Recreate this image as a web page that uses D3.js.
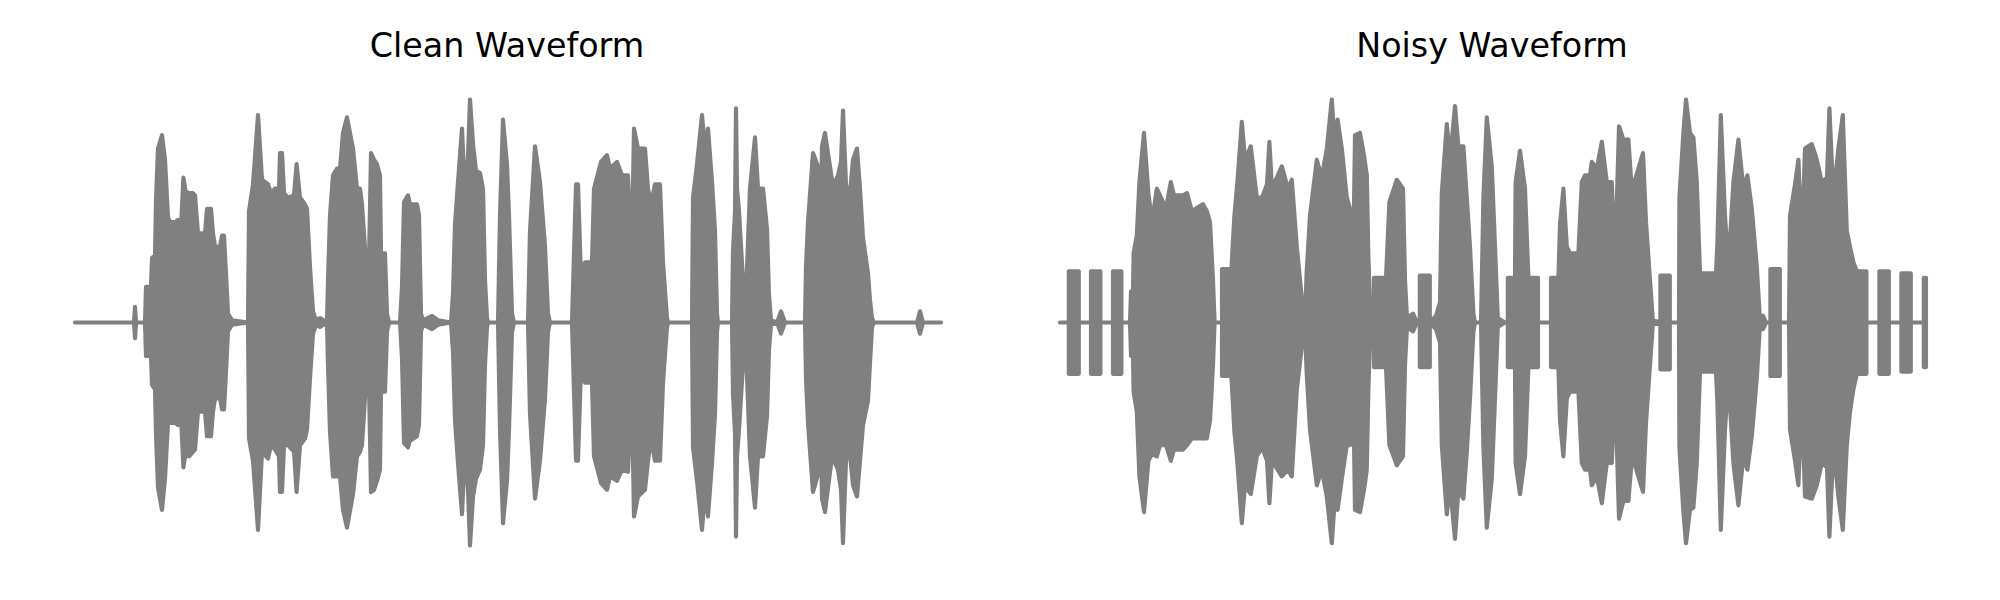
<!DOCTYPE html>
<html>
<head>
<meta charset="utf-8">
<script src="https://cdn.jsdelivr.net/npm/d3@7"></script>
<style>
  html, body { margin: 0; padding: 0; background: #ffffff; }
  svg { display: block; }
</style>
</head>
<body>
<svg id="chart" width="2000" height="600"></svg>
<script>
// Panel titles
const panelTitles = ["Clean Waveform", "Noisy Waveform"];

// Envelope of the clean waveform: [time (10 ms units), upper amplitude, lower amplitude]
const cleanEnvelope = [
  [0,0,0],[29,0,0],[29.5,0,0],[30,0.07,-0.07],[30.5,0,0],[35,0,0],
  [35.5,0.16,-0.15],[38,0.16,-0.15],[38.5,0.29,-0.28],[40,0.30,-0.30],[40.5,0.55,-0.50],
  [41.5,0.78,-0.74],[43.5,0.84,-0.84],[45,0.73,-0.70],[46.5,0.47,-0.45],[47.5,0.45,-0.45],
  [50,0.45,-0.45],[51.5,0.46,-0.46],[53,0.42,-0.42],[54.2,0.65,-0.65],[55.2,0.59,-0.59],
  [57,0.58,-0.60],[59,0.58,-0.58],[60,0.57,-0.57],[61.5,0.40,-0.40],[65,0.40,-0.40],
  [66,0.51,-0.51],[68,0.51,-0.51],[69,0.40,-0.40],[70,0.34,-0.34],[72.5,0.34,-0.34],
  [73.5,0.39,-0.39],[74.5,0.39,-0.39],[75.5,0.22,-0.22],[76.5,0.04,-0.04],[78.5,0.01,-0.01],[86.5,0,0],
  [87,0.50,-0.52],[89,0.62,-0.62],[91.5,0.93,-0.93],[93.5,0.64,-0.58],[96.5,0.62,-0.61],
  [98,0.58,-0.55],[100,0.60,-0.57],[102,0.60,-0.60],[102.5,0.76,-0.76],[103.5,0.76,-0.76],
  [104.5,0.58,-0.55],[106.5,0.56,-0.55],[109.5,0.57,-0.58],[110.8,0.71,-0.76],[112.5,0.56,-0.55],
  [115,0.53,-0.52],[116,0.51,-0.48],[117.5,0.25,-0.25],
  [119,0.05,-0.05],[120.5,0.01,-0.01],[122.5,0.02,-0.02],[126,0,0],
  [126.5,0.19,-0.19],[127.5,0.48,-0.49],[129,0.66,-0.69],[131,0.69,-0.69],[132.5,0.69,-0.69],
  [134,0.85,-0.84],[136,0.92,-0.92],[139,0.78,-0.77],[141,0.60,-0.60],[142.5,0.60,-0.58],
  [143.5,0.53,-0.55],[145.5,0.27,-0.27],[147,0.27,-0.27],[148,0.76,-0.76],[149.5,0.73,-0.75],
  [151,0.71,-0.71],[152.5,0.66,-0.66],[153,0.31,-0.31],[155,0.31,-0.31],[156,0.04,-0.04],
  [157,0,0],[162.5,0,0],
  [163.5,0.16,-0.16],[164.5,0.54,-0.54],[166.5,0.57,-0.56],[167.5,0.53,-0.53],[171,0.53,-0.51],
  [172,0.48,-0.46],[173,0.04,-0.04],[174,0.01,-0.01],[178.5,0.03,-0.03],[181.5,0.01,-0.01],[188,0,0],
  [189,0.13,-0.13],[190,0.44,-0.44],[191.5,0.63,-0.63],[193.5,0.87,-0.86],[194.5,0.66,-0.66],
  [195.5,0.60,-0.62],[196.5,0.75,-0.75],[197.5,1.00,-1.00],[199,0.80,-0.78],[200.5,0.68,-0.70],
  [202.5,0.67,-0.66],[204,0.60,-0.55],
  [205,0.19,-0.19],[206,0.02,-0.02],[206.5,0,0],[211.5,0,0],
  [212.5,0.48,-0.48],[214,0.91,-0.90],[216,0.71,-0.71],[217,0.48,-0.48],[218.5,0.04,-0.04],
  [219.5,0,0],[226.5,0,0],
  [227.5,0.41,-0.41],[230,0.79,-0.79],[232.5,0.63,-0.62],[235,0.34,-0.34],[236.5,0.04,-0.04],
  [237.5,0,0],[248.5,0,0],
  [249.5,0.31,-0.31],[250.5,0.62,-0.62],[251.5,0.62,-0.62],[253,0.20,-0.20],[255,0.27,-0.27],
  [258.5,0.27,-0.27],[259.5,0.60,-0.60],[263,0.72,-0.72],[266,0.75,-0.75],[267.5,0.69,-0.69],
  [271,0.72,-0.71],[273.5,0.66,-0.66],[276.5,0.66,-0.67],[277.5,0.44,-0.44],[278,0.11,-0.11],
  [279.5,0.87,-0.87],[281.5,0.78,-0.78],[285,0.78,-0.75],[286.5,0.60,-0.62],[288,0.53,-0.52],
  [290,0.62,-0.62],[292.5,0.62,-0.62],[294,0.27,-0.27],[296,0.02,-0.02],[296.5,0,0],[308.5,0,0],
  [309,0.56,-0.56],[311,0.71,-0.71],[313.5,0.93,-0.93],[315,0.78,-0.75],[316.5,0.87,-0.87],
  [318.5,0.63,-0.63],[320,0.41,-0.41],[321,0.04,-0.04],[321.5,0,0],[328.5,0,0],
  [329,0.32,-0.32],[330,0.50,-0.50],[330.5,0.96,-0.96],[331,0.60,-0.60],[332,0.50,-0.48],
  [334,0.19,-0.19],[335.5,0.12,-0.12],
  [337.5,0.60,-0.60],[340,0.83,-0.83],[341.5,0.60,-0.60],[344,0.60,-0.60],[346,0.42,-0.42],
  [347,0.12,-0.12],[348,0.01,-0.01],[351,0,0],[353,0.05,-0.05],[355,0,0],[365,0,0],
  [365.5,0.25,-0.25],[366.5,0.45,-0.45],[369,0.76,-0.76],[371.5,0.70,-0.68],[372.5,0.19,-0.19],
  [373.5,0.79,-0.79],[375,0.85,-0.85],[378.5,0.64,-0.60],[380,0.63,-0.63],[381.5,0.66,-0.66],
  [383,0.72,-0.75],[384,0.95,-0.99],[385.5,0.62,-0.62],[387,0.53,-0.55],[389,0.73,-0.73],
  [391,0.78,-0.78],[392.5,0.60,-0.62],[394,0.38,-0.46],
  [396.5,0.22,-0.35],[397.5,0.10,-0.18],[398.5,0.02,-0.02],[399.5,0,0],[421,0,0],
  [422.5,0.05,-0.05],[424,0,0],[433,0,0]
];

// Envelope of the noisy waveform: [time (10 ms units), upper amplitude, lower amplitude]
const noisyEnvelope = [
  [0,0,0],[4.4,0,0],[4.4,0.23,-0.23],[9.4,0.23,-0.23],[9.4,0,0],
  [15.5,0,0],[15.5,0.23,-0.23],[20.2,0.23,-0.23],[20.2,0,0],
  [26.5,0,0],[26.5,0.23,-0.23],[30.7,0.23,-0.23],[30.7,0,0],[35,0,0],
  [35.5,0.14,-0.15],[36.5,0.14,-0.15],[36.8,0.31,-0.31],[38.4,0.39,-0.40],[39.7,0.63,-0.69],
  [42,0.85,-0.85],[44.2,0.58,-0.62],[46,0.45,-0.59],[48.4,0.60,-0.60],[50,0.57,-0.55],
  [53,0.51,-0.55],[55.4,0.63,-0.62],[57,0.57,-0.57],[61.5,0.57,-0.57],[63.5,0.58,-0.55],
  [65.9,0.50,-0.52],[71.5,0.53,-0.52],[73.4,0.50,-0.52],[75,0.45,-0.44],[76.5,0.19,-0.19],
  [77.3,0,0],[81,0,0],[81,0.24,-0.24],[85.7,0.24,-0.24],
  [87.2,0.48,-0.49],[88.7,0.63,-0.63],[90.9,0.90,-0.90],[92.5,0.73,-0.73],[95.4,0.79,-0.77],
  [98.4,0.56,-0.60],[101,0.56,-0.56],[103.5,0.62,-0.62],[104.7,0.81,-0.81],[106,0.60,-0.62],
  [110.9,0.70,-0.69],
  [114,0.60,-0.66],[115.9,0.64,-0.69],[118.4,0.34,-0.30],[120.9,0.11,-0.11],[122.5,0.01,-0.01],
  [123.3,0.22,-0.22],[125,0.48,-0.48],[128.4,0.73,-0.73],[130.9,0.65,-0.66],[133.4,0.78,-0.78],
  [135.9,1.00,-0.99],[137.5,0.78,-0.78],[138.8,0.91,-0.84],[140.9,0.78,-0.70],[143.4,0.56,-0.55],
  [145,0.51,-0.55],[146.7,0.34,-0.35],[147.5,0.84,-0.84],[150,0.85,-0.85],[152,0.75,-0.75],
  [153.4,0.66,-0.66],[154.2,0.29,-0.29],[155,0.09,-0.09],[155.5,0,0],
  [157,0,0],[157,0.20,-0.20],[163,0.20,-0.20],
  [164.7,0.54,-0.55],[168.4,0.64,-0.64],[171.5,0.60,-0.60],[172.5,0.19,-0.19],[173.5,0.02,-0.02],
  [176.5,0.04,-0.04],[178.5,0,0],
  [179.9,0,0],[179.9,0.21,-0.20],[184.9,0.21,-0.20],[184.9,0,0],[188,0.03,-0.03],[190,0.09,-0.09],
  [190.9,0.58,-0.55],[193.4,0.89,-0.86],[195,0.73,-0.73],[197.5,0.97,-0.97],[199.2,0.79,-0.75],
  [201.7,0.79,-0.79],[203.4,0.56,-0.58],[205,0.34,-0.34],[206.7,0.04,-0.04],[207.5,0,0],[210.5,0,0],
  [211.7,0.56,-0.56],[213.4,0.92,-0.92],[215.9,0.70,-0.70],[217.5,0.34,-0.34],[218.9,0.02,-0.02],
  [222.5,0,0],[223.9,0,0],[223.9,0.20,-0.20],[227.5,0.20,-0.20],
  [227.8,0.63,-0.63],[230,0.77,-0.77],[232.5,0.60,-0.60],[234.2,0.20,-0.20],[239,0.20,-0.20],[239,0,0],
  [245.5,0,0],[245.5,0.20,-0.20],[249.2,0.20,-0.20],
  [250,0.44,-0.44],[251.7,0.60,-0.60],[253.4,0.34,-0.34],[255,0.31,-0.31],[259.2,0.31,-0.31],
  [260.9,0.63,-0.63],[262.5,0.66,-0.66],[265,0.66,-0.66],[265.9,0.72,-0.73],[268.4,0.69,-0.69],
  [270.9,0.81,-0.81],[273.4,0.63,-0.63],[275.9,0.63,-0.63],[277.5,0.25,-0.26],[279.5,0.88,-0.88],
  [281.7,0.82,-0.80],[284.2,0.82,-0.80],[286,0.58,-0.60],[287.5,0.64,-0.64],[291.5,0.76,-0.76],
  [293,0.45,-0.45],[295,0.19,-0.19],[296.4,0.01,-0.01],
  [300.2,0,0],[300.2,0.21,-0.21],[304.9,0.21,-0.21],[304.9,0,0],[309.5,0,0],
  [309.7,0.56,-0.56],[311.7,0.85,-0.85],[313,1.00,-0.99],[315,0.85,-0.84],[316.7,0.83,-0.83],
  [318.4,0.63,-0.63],[320,0.22,-0.22],[328,0.22,-0.22],[328.7,0.36,-0.36],[330.4,0.93,-0.93],
  [332.5,0.48,-0.48],[334.2,0.25,-0.25],[336.7,0.63,-0.63],[339.2,0.82,-0.82],[341.7,0.60,-0.60],
  [343.7,0.66,-0.66],[345.9,0.51,-0.51],[348.4,0.25,-0.25],[350,0.01,-0.01],[351.5,0.03,-0.03],
  [353,0,0],[355.2,0,0],[355.2,0.24,-0.24],[359.9,0.24,-0.24],[359.9,0,0],[364.5,0,0],
  [365,0.48,-0.48],[367.5,0.62,-0.62],[369.2,0.73,-0.73],[370.9,0.34,-0.34],[372.5,0.78,-0.78],
  [375.9,0.80,-0.79],[378.4,0.73,-0.73],[380.9,0.63,-0.63],[383.5,0.65,-0.65],[384.7,0.96,-0.96],
  [386.7,0.56,-0.56],
  [389.2,0.78,-0.78],[391.4,0.93,-0.93],[393.4,0.41,-0.55],[395,0.34,-0.40],[396.7,0.27,-0.30],
  [398.4,0.23,-0.23],[403.2,0.23,-0.23],[403.2,0,0],
  [409.7,0,0],[409.7,0.23,-0.23],[414.4,0.23,-0.23],[414.4,0,0],
  [420.7,0,0],[420.7,0.22,-0.22],[425.4,0.22,-0.22],[425.4,0,0],
  [431.9,0,0],[431.9,0.20,-0.20],[433,0.20,-0.20]
];

const svg = d3.select("#chart");
const color = "#808080";
const centerY = 322.5;

const panels = [
  { title: panelTitles[0], data: cleanEnvelope, range: [75, 941] },
  { title: panelTitles[1], data: noisyEnvelope, range: [1060, 1926] }
];

const y = d3.scaleLinear().domain([-1, 1]).range([centerY + 223, centerY - 223]);

panels.forEach(p => {
  const x = d3.scaleLinear().domain([0, 433]).range(p.range);
  const area = d3.area()
    .x(d => x(d[0]))
    .y0(d => y(d[2]))
    .y1(d => y(d[1]));
  svg.append("path")
    .datum(p.data)
    .attr("d", area)
    .attr("fill", color)
    .attr("stroke", color)
    .attr("stroke-width", 4.17)
    .attr("stroke-linejoin", "round")
    .attr("stroke-linecap", "round");
  const cx = (p.range[0] + p.range[1]) / 2 - 1;
  svg.append("text")
    .attr("x", cx)
    .attr("y", 57)
    .attr("text-anchor", "middle")
    .attr("font-family", "DejaVu Sans")
    .attr("font-size", 33.33)
    .attr("fill", "#000000")
    .text(p.title);
});
</script>
</body>
</html>
